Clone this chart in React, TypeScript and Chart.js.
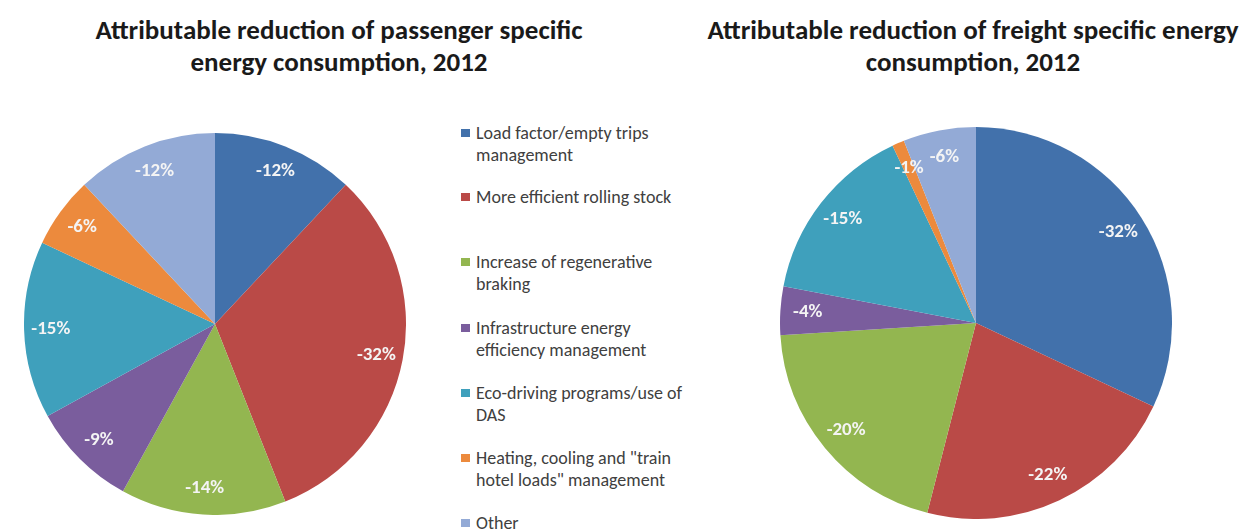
import React, { useEffect, useRef } from "react";
import { Chart, registerables } from "chart.js";

Chart.register(...registerables);

const categories = [
  "Load factor/empty trips\nmanagement",
  "More efficient rolling stock",
  "Increase of regenerative\nbraking",
  "Infrastructure energy\nefficiency management",
  "Eco-driving programs/use of\nDAS",
  "Heating, cooling and \"train\nhotel loads\" management",
  "Other",
];
const passengerValues = [12, 32, 14, 9, 15, 6, 12];
const freightValues = [32, 22, 20, 4, 15, 1, 6];
const sliceColors = ["#4271AB", "#BA4A47", "#93B650", "#7A5D9D", "#3FA0BC", "#EC8A3D", "#93AAD6"];
const passengerTitle = ["Attributable reduction of passenger specific", "energy consumption, 2012"];
const freightTitle = ["Attributable reduction of freight specific energy", "consumption, 2012"];

const FONT = "Carlito, Calibri, 'Liberation Sans Narrow', 'Open Sans', sans-serif";

const labelPlugin = {
  id: "sliceLabels",
  afterDatasetsDraw(chart: any) {
    const ctx = chart.ctx;
    const meta = chart.getDatasetMeta(0);
    const data = chart.data.datasets[0].data as number[];
    ctx.save();
    ctx.font = `bold 19px ${FONT}`;
    ctx.fillStyle = "#F4F4F4";
    ctx.textAlign = "center";
    ctx.textBaseline = "middle";
    meta.data.forEach((arc: any, i: number) => {
      const p = arc.getProps(["x", "y", "startAngle", "endAngle", "outerRadius"], true);
      const a = (p.startAngle + p.endAngle) / 2;
      const r = p.outerRadius * 0.86;
      ctx.fillText(`-${data[i]}%`, p.x + Math.cos(a) * r, p.y + Math.sin(a) * r);
    });
    ctx.restore();
  },
};

function PieCanvas({ values, size }: { values: number[]; size: number }) {
  const ref = useRef<HTMLCanvasElement>(null);
  useEffect(() => {
    if (!ref.current) return;
    const chart = new Chart(ref.current, {
      type: "pie",
      data: {
        labels: categories.map((c) => c.replace("\n", " ")),
        datasets: [{ data: values, backgroundColor: sliceColors, borderWidth: 0 }],
      },
      options: {
        responsive: false,
        animation: false,
        devicePixelRatio: 1,
        layout: { padding: 0 },
        plugins: { legend: { display: false }, tooltip: { enabled: false }, title: { display: false } },
      },
      plugins: [labelPlugin],
    });
    return () => chart.destroy();
  }, [values, size]);
  return <canvas ref={ref} width={size} height={size} style={{ width: size, height: size, display: "block" }} />;
}

const legendTops = [133, 197, 262, 328, 393, 458, 523];

export default function App() {
  const titleStyle: React.CSSProperties = {
    position: "absolute",
    top: 14,
    fontFamily: FONT,
    fontWeight: "bold",
    fontSize: 27,
    lineHeight: "32px",
    color: "#1a1a1a",
    textAlign: "center",
    whiteSpace: "nowrap",
  };
  return (
    <div style={{ position: "absolute", left: 0, top: 0, width: 1247, height: 532, background: "#fff", overflow: "hidden" }}>
      <div style={{ ...titleStyle, left: 39, width: 600 }}>
        {passengerTitle.map((t, i) => (
          <div key={i}>{t}</div>
        ))}
      </div>
      <div style={{ ...titleStyle, left: 683, width: 580 }}>
        {freightTitle.map((t, i) => (
          <div key={i}>{t}</div>
        ))}
      </div>
      <div style={{ position: "absolute", left: 24, top: 133 }}>
        <PieCanvas values={passengerValues} size={382} />
      </div>
      <div style={{ position: "absolute", left: 780, top: 127 }}>
        <PieCanvas values={freightValues} size={392} />
      </div>
      {categories.map((c, i) => (
        <div
          key={i}
          style={{
            position: "absolute",
            left: 461,
            top: legendTops[i] - 11,
            fontFamily: FONT,
            fontSize: 18,
            lineHeight: "22px",
            color: "#404040",
            whiteSpace: "pre",
          }}
        >
          <span
            style={{
              position: "absolute",
              left: 0,
              top: 7,
              width: 9,
              height: 8,
              background: sliceColors[i],
            }}
          />
          <div style={{ marginLeft: 15 }}>{c}</div>
        </div>
      ))}
    </div>
  );
}
